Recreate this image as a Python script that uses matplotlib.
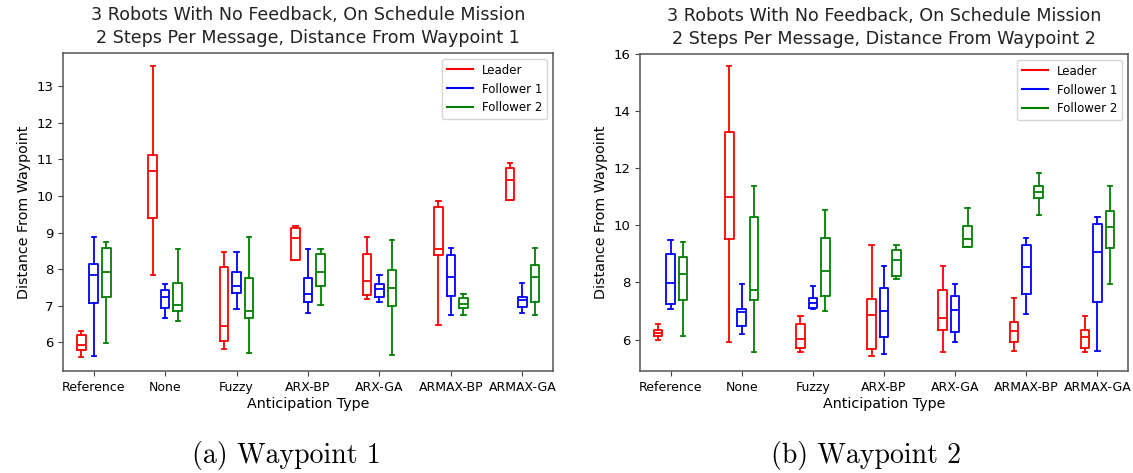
import numpy as np
import matplotlib
matplotlib.use("Agg")
import matplotlib.pyplot as plt

# Anticipation types (x categories)
categories = ["Reference", "None", "Fuzzy", "ARX-BP", "ARX-GA", "ARMAX-BP", "ARMAX-GA"]
series = ["Leader", "Follower 1", "Follower 2"]
colors = ["red", "blue", "green"]

# Box stats per series: rows are categories, columns are
# (whisker low, Q1, median, Q3, whisker high)
wp1_leader = [
    [5.60, 5.79, 5.93, 6.20, 6.32],
    [7.84, 9.39, 10.67, 11.11, 13.55],
    [5.83, 6.03, 6.44, 8.06, 8.47],
    [8.26, 8.26, 8.86, 9.11, 9.19],
    [7.19, 7.30, 7.68, 8.40, 8.87],
    [6.47, 8.39, 8.55, 9.71, 9.87],
    [9.90, 9.90, 10.44, 10.75, 10.91],
]
wp1_follower1 = [
    [5.64, 7.07, 7.84, 8.15, 8.87],
    [6.67, 6.95, 7.25, 7.44, 7.59],
    [6.91, 7.35, 7.55, 7.91, 8.47],
    [6.79, 7.11, 7.32, 7.75, 8.55],
    [7.11, 7.23, 7.45, 7.59, 7.83],
    [6.75, 7.27, 7.79, 8.39, 8.59],
    [6.79, 6.98, 7.16, 7.23, 7.63],
]
wp1_follower2 = [
    [5.99, 7.23, 7.92, 8.59, 8.75],
    [6.59, 6.87, 7.03, 7.63, 8.55],
    [5.72, 6.67, 6.87, 7.75, 8.87],
    [7.03, 7.55, 7.91, 8.40, 8.55],
    [5.65, 6.99, 7.48, 7.99, 8.79],
    [6.75, 6.95, 7.06, 7.20, 7.31],
    [6.75, 7.11, 7.79, 8.11, 8.59],
]

wp2_leader = [
    [5.98, 6.14, 6.23, 6.34, 6.54],
    [5.93, 9.52, 11.01, 13.27, 15.59],
    [5.57, 5.72, 6.03, 6.54, 6.84],
    [5.42, 5.67, 6.85, 7.43, 9.32],
    [5.57, 6.33, 6.76, 7.73, 8.59],
    [5.61, 5.92, 6.30, 6.60, 7.47],
    [5.57, 5.72, 6.09, 6.35, 6.81],
]
wp2_follower1 = [
    [7.06, 7.25, 7.99, 9.01, 9.47],
    [6.19, 6.49, 6.98, 7.06, 7.93],
    [7.06, 7.12, 7.27, 7.47, 7.88],
    [5.51, 6.09, 7.00, 7.82, 8.59],
    [5.92, 6.28, 7.05, 7.52, 7.93],
    [6.90, 7.61, 8.55, 9.32, 9.57],
    [5.61, 7.31, 9.06, 10.03, 10.29],
]
wp2_follower2 = [
    [6.14, 7.37, 8.29, 8.90, 9.42],
    [5.57, 7.37, 7.73, 10.29, 11.37],
    [7.00, 7.52, 8.39, 9.57, 10.54],
    [8.13, 8.23, 8.80, 9.15, 9.32],
    [9.25, 9.25, 9.53, 9.98, 10.61],
    [10.35, 10.95, 11.16, 11.37, 11.83],
    [7.93, 9.21, 9.93, 10.50, 11.37],
]

titles = [
    "3 Robots With No Feedback, On Schedule Mission\n2 Steps Per Message, Distance From Waypoint 1",
    "3 Robots With No Feedback, On Schedule Mission\n2 Steps Per Message, Distance From Waypoint 2",
]
captions = ["(a) Waypoint 1", "(b) Waypoint 2"]


def to_stats(rows):
    keys = ["whislo", "q1", "med", "q3", "whishi"]
    return [dict(zip(keys, r)) for r in rows]


def draw_panel(ax, data, title):
    offsets = [-0.175, 0.0, 0.175]
    x = np.arange(len(categories))
    for rows, off, col, name in zip(data, offsets, colors, series):
        bp = ax.bxp(to_stats(rows), positions=x + off, widths=0.12,
                    showfliers=False, manage_ticks=False)
        for key in ["boxes", "whiskers", "caps", "medians"]:
            plt.setp(bp[key], color=col, linewidth=1.3)
        ax.plot([], c=col, label=name)
    ax.set_xticks(x)
    ax.set_xticklabels(categories, fontsize=9)
    ax.set_xlim(-0.43, 6.43)
    ax.tick_params(axis="y", labelsize=9.5, color="#444444")
    ax.tick_params(axis="x", color="#444444")
    ax.set_xlabel("Anticipation Type", fontsize=10.3, labelpad=2)
    ax.set_ylabel("Distance From Waypoint", fontsize=10.3)
    ax.set_title(title, fontsize=12.6, color="#222222", pad=7, linespacing=1.35)
    for sp in ax.spines.values():
        sp.set_color("#555555")
        sp.set_linewidth(1.1)
    ax.legend(loc="upper right", fontsize=8.5, handlelength=2.2)


fig = plt.figure(figsize=(11.33, 4.73), dpi=100)
ax1 = fig.add_axes([63 / 1133, 102 / 473, 490 / 1133, 318 / 473])
ax2 = fig.add_axes([640 / 1133, 102 / 473, 488 / 1133, 317 / 473])

draw_panel(ax1, [wp1_leader, wp1_follower1, wp1_follower2], titles[0])
draw_panel(ax2, [wp2_leader, wp2_follower1, wp2_follower2], titles[1])
ax1.set_yticks(np.arange(6, 14, 1))
ax1.set_ylim(5.22, 13.9)
ax2.set_yticks(np.arange(6, 17, 2))
ax2.set_ylim(4.9, 16.0)

# Figure captions below each panel
fig.text(286 / 1133, 1 - 455 / 473, captions[0], ha="center", va="center",
         fontsize=20, family="cmr10")
fig.text(866 / 1133, 1 - 455 / 473, captions[1], ha="center", va="center",
         fontsize=20, family="cmr10")

fig.savefig("out.png", dpi=100)
